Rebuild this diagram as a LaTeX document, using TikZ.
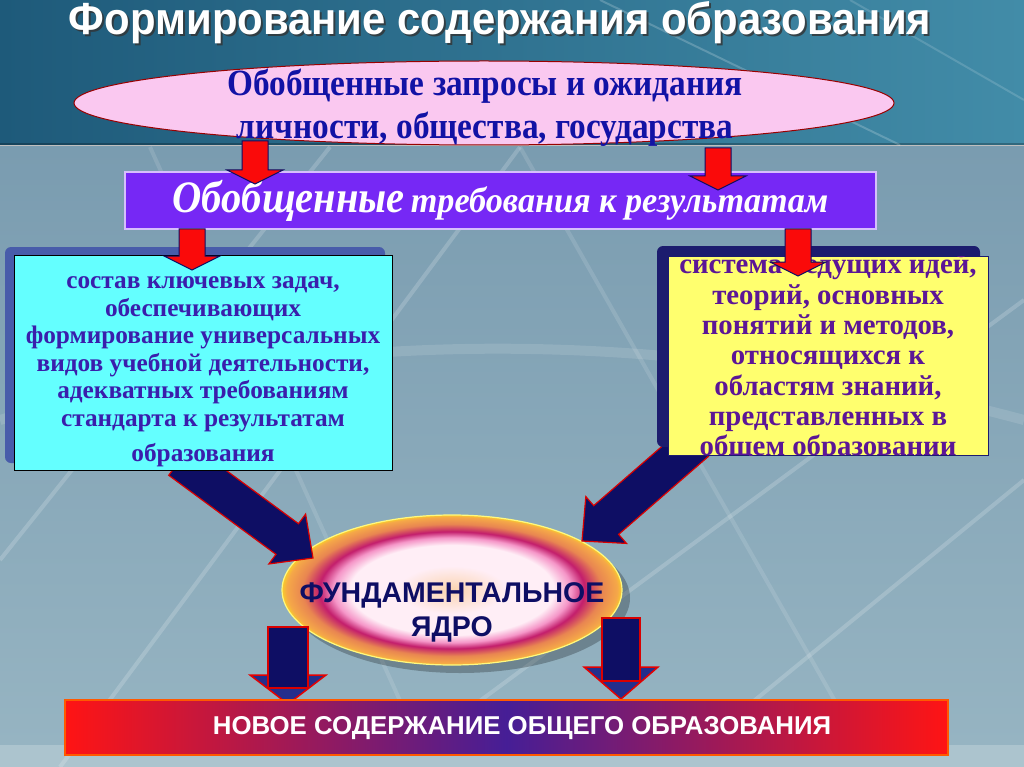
\documentclass[tikz,border=0pt]{standalone}
\usepackage{fontspec}
\setmainfont{Liberation Serif}
\newfontfamily\sansf{Liberation Sans}
\newfontfamily\tsans[FakeStretch=0.93]{Liberation Sans}
\newfontfamily\cserif[FakeStretch=0.90]{Liberation Serif}
\newfontfamily\cserifC[FakeStretch=0.95]{Liberation Serif}
\usetikzlibrary{calc,shapes.geometric}
\definecolor{bgtopL}{RGB}{30,90,122}
\definecolor{bgtopR}{RGB}{66,140,168}
\definecolor{bgmidT}{RGB}{122,156,176}
\definecolor{bgmidB}{RGB}{150,180,194}
\definecolor{bgstrip}{RGB}{172,196,206}
\definecolor{pinkfill}{RGB}{250,200,240}
\definecolor{reqtext}{RGB}{18,18,165}
\definecolor{violetbox}{RGB}{118,40,245}
\definecolor{cyanbox}{RGB}{100,255,255}
\definecolor{cyantext}{RGB}{58,30,172}
\definecolor{yellowbox}{RGB}{255,255,110}
\definecolor{yellowtext}{RGB}{92,22,150}
\definecolor{navy}{RGB}{14,14,100}
\definecolor{headblue}{RGB}{36,46,140}
\definecolor{frameblue}{RGB}{72,92,170}
\definecolor{framenavy}{RGB}{28,28,110}
\definecolor{arrowred}{RGB}{250,10,10}
\definecolor{coreorange}{RGB}{245,168,72}
\definecolor{corecrimson}{RGB}{195,30,108}
\definecolor{corepink}{RGB}{245,150,200}
\definecolor{corewhite}{RGB}{255,238,246}
\definecolor{corepeach}{RGB}{250,212,175}
\definecolor{bannerred}{RGB}{255,20,20}
\definecolor{bannermid}{RGB}{70,30,150}
\pgfdeclareradialshading{coreshade}{\pgfpoint{0bp}{0bp}}{%
 color(0bp)=(corepeach); color(8bp)=(corewhite); color(15bp)=(corewhite);
 color(17.5bp)=(corepink); color(19.5bp)=(corecrimson); color(22bp)=(coreorange!75!corecrimson);
 color(24.3bp)=(coreorange); color(25bp)=(coreorange!60!yellow); color(50bp)=(coreorange)}
\newcommand\barrow[6]{%
 \path ($(#3)!#6!(#2)$) coordinate (nk);
 \draw[#1] ($(#2)!#4!90:(#3)$) -- ($(nk)!#4!90:(#3)$) -- ($(nk)!#5!90:(#3)$) -- (#3)
   -- ($(nk)!#5!-90:(#3)$) -- ($(nk)!#4!-90:(#3)$) -- ($(#2)!#4!-90:(#3)$) -- cycle;}
% down arrow drawn as head triangle + shaft: #1 top, #2 shaft bottom, #3 tip, #4 shaft half, #5 head half, #6 head depth
\newcommand\dnarrow[6]{%
 \path ($(#3)+(0,-#6)$) coordinate (hb);
 \draw[headstyle] ($(hb)+(-#5,0)$) -- ($(hb)+(#5,0)$) -- (#3) -- cycle;
 \draw[shaftstyle] ($(#1)+(-#4,0)$) rectangle ($(#2)+(#4,0)$);}
\tikzset{
 redarrow/.style={fill=arrowred, draw=navy, line width=1pt, line join=miter},
 navyarrow/.style={fill=navy, draw=red!85!black, line width=1.2pt, line join=miter},
 headstyle/.style={fill=headblue, draw=red!90!black, line width=1.5pt, line join=miter},
 shaftstyle/.style={fill=navy, draw=red!85!black, line width=1.2pt},
 streak/.style={white, opacity=0.18, line width=4pt},
}
\begin{document}
\begin{tikzpicture}[x=1pt,y=-1pt]
\useasboundingbox (0,0) rectangle (1024,767);
% background
\shade[left color=bgtopL, right color=bgtopR] (0,0) rectangle (1024,145);
\fill[black, opacity=0.25] (0,143) rectangle (1024,147);
\shade[top color=bgmidT, bottom color=bgmidB] (0,147) rectangle (1024,745);
\fill[bgstrip] (0,745) rectangle (1024,767);
\draw[streak] (60,767) -- (520,147);
\draw[streak] (420,745) -- (1024,300);
\draw[streak] (0,560) -- (330,147);
\draw[streak] (700,745) -- (1024,480);
\draw[streak, opacity=0.12, line width=10pt] (0,420) .. controls (300,330) and (650,320) .. (1024,420);
\draw[streak, opacity=0.12] (520,147) -- (860,745);
\draw[streak, opacity=0.12] (150,147) -- (420,745);
\draw[white, opacity=0.2, line width=2pt] (600,0) -- (900,145);
\draw[white, opacity=0.15, line width=2pt] (850,0) -- (1024,100);

% title
\node[font=\tsans\bfseries\fontsize{45}{46}\selectfont, text=black!80, opacity=0.8] (titleshadow) at (502,25) {Формирование содержания образования};
\node[font=\tsans\bfseries\fontsize{45}{46}\selectfont, text=white] (title) at (500,23) {Формирование содержания образования};

% requests ellipse
\node[ellipse, draw=red!60!black, line width=1pt, fill=pinkfill, minimum width=820, minimum height=84] (req) at (484,103) {};
\node[font=\cserif\bfseries\fontsize{37}{43}\selectfont, text=reqtext, align=center] (reqlabel) at (485,108) {Обобщенные запросы и ожидания\\личности, общества, государства};

% core ellipse
\fill[black, opacity=0.25] (460,598) ellipse [x radius=170, y radius=75];
\path[shading=coreshade, draw=yellow!50!white, line width=1.2pt] (452,590) ellipse [x radius=170, y radius=75];
\coordinate (core) at (452,590);
\node[font=\sansf\bfseries\fontsize{28.5}{34}\selectfont, text=navy, align=center] (corelabel) at (452,612) {ФУНДАМЕНТАЛЬНОЕ\\ЯДРО};

% navy diagonal arrows (behind the boxes)
\coordinate (na1) at (180,460); \coordinate (nb1) at (313,558);
\coordinate (na2) at (696,442); \coordinate (nb2) at (582,541);
\barrow{navyarrow}{na1}{nb1}{19pt}{31pt}{32pt}
\barrow{navyarrow}{na2}{nb2}{19pt}{31pt}{32pt}

% generalized requirements box
\node[rectangle, fill=violetbox, draw=white!70!violetbox, line width=1.5pt, minimum width=751, minimum height=57, text=white, inner sep=0pt] (gen) at (500.5,200.5)
 {\cserif\bfseries\itshape{\fontsize{45}{46}\selectfont Обобщенные}\hspace{6pt}{\cserifC\bfseries\itshape\fontsize{36}{38}\selectfont требования к результатам}};

% left cyan box with frame
\fill[frameblue, rounded corners=6pt] (5,247) rectangle (385,463);
\node[rectangle, draw=black, line width=0.8pt, fill=cyanbox, minimum width=378, minimum height=215] (tasks) at (203,362.5) {};
\node[font=\bfseries\fontsize{25.3}{27.5}\selectfont, text=cyantext, align=center] (taskslabel) at (203,372)
 {состав ключевых задач,\\обеспечивающих\\формирование универсальных\\видов учебной деятельности,\\адекватных требованиям\\стандарта к результатам\\[8pt]образования};

% right yellow box with frame
\fill[framenavy, rounded corners=6pt] (657,246) rectangle (980,447);
\node[rectangle, draw=framenavy, line width=0.8pt, fill=yellowbox, minimum width=320, minimum height=199] (ideas) at (828,355.5) {};
\begin{scope}
\clip (668,256) rectangle (988,455);
\node[font=\bfseries\fontsize{28.8}{30.3}\selectfont, text=yellowtext, align=center] (ideaslabel) at (828,358)
 {система ведущих идей,\\теорий, основных\\понятий и методов,\\относящихся к\\областям знаний,\\представленных в\\общем образовании};
\end{scope}

% red arrows
\coordinate (ra1) at (255,141); \coordinate (rb1) at (255,184);
\coordinate (ra2) at (718,148); \coordinate (rb2) at (718,190);
\coordinate (ra3) at (192,229); \coordinate (rb3) at (192,270);
\coordinate (ra4) at (798,229); \coordinate (rb4) at (798,276);
\barrow{redarrow}{ra1}{rb1}{13pt}{28pt}{14pt}
\barrow{redarrow}{ra2}{rb2}{13pt}{28pt}{14pt}
\barrow{redarrow}{ra3}{rb3}{13pt}{28pt}{14pt}
\barrow{redarrow}{ra4}{rb4}{13pt}{28pt}{14pt}

% navy down arrows
\coordinate (nd1) at (288,627); \coordinate (ns1) at (288,688); \coordinate (ne1) at (288,704);
\coordinate (nd2) at (621,618); \coordinate (ns2) at (621,681); \coordinate (ne2) at (621,699);
\dnarrow{nd1}{ns1}{ne1}{20}{38}{29}
\dnarrow{nd2}{ns2}{ne2}{19}{37}{32}

% bottom banner
\shade[left color=bannerred, right color=bannerred, middle color=bannermid] (65,700) rectangle (948,755);
\draw[orange!70!red, line width=2pt] (65,700) rectangle (948,755);
\node[font=\sansf\bfseries\fontsize{25.8}{28}\selectfont, text=white] (banner) at (522,728) {НОВОЕ СОДЕРЖАНИЕ ОБЩЕГО ОБРАЗОВАНИЯ};
\end{tikzpicture}
\end{document}
